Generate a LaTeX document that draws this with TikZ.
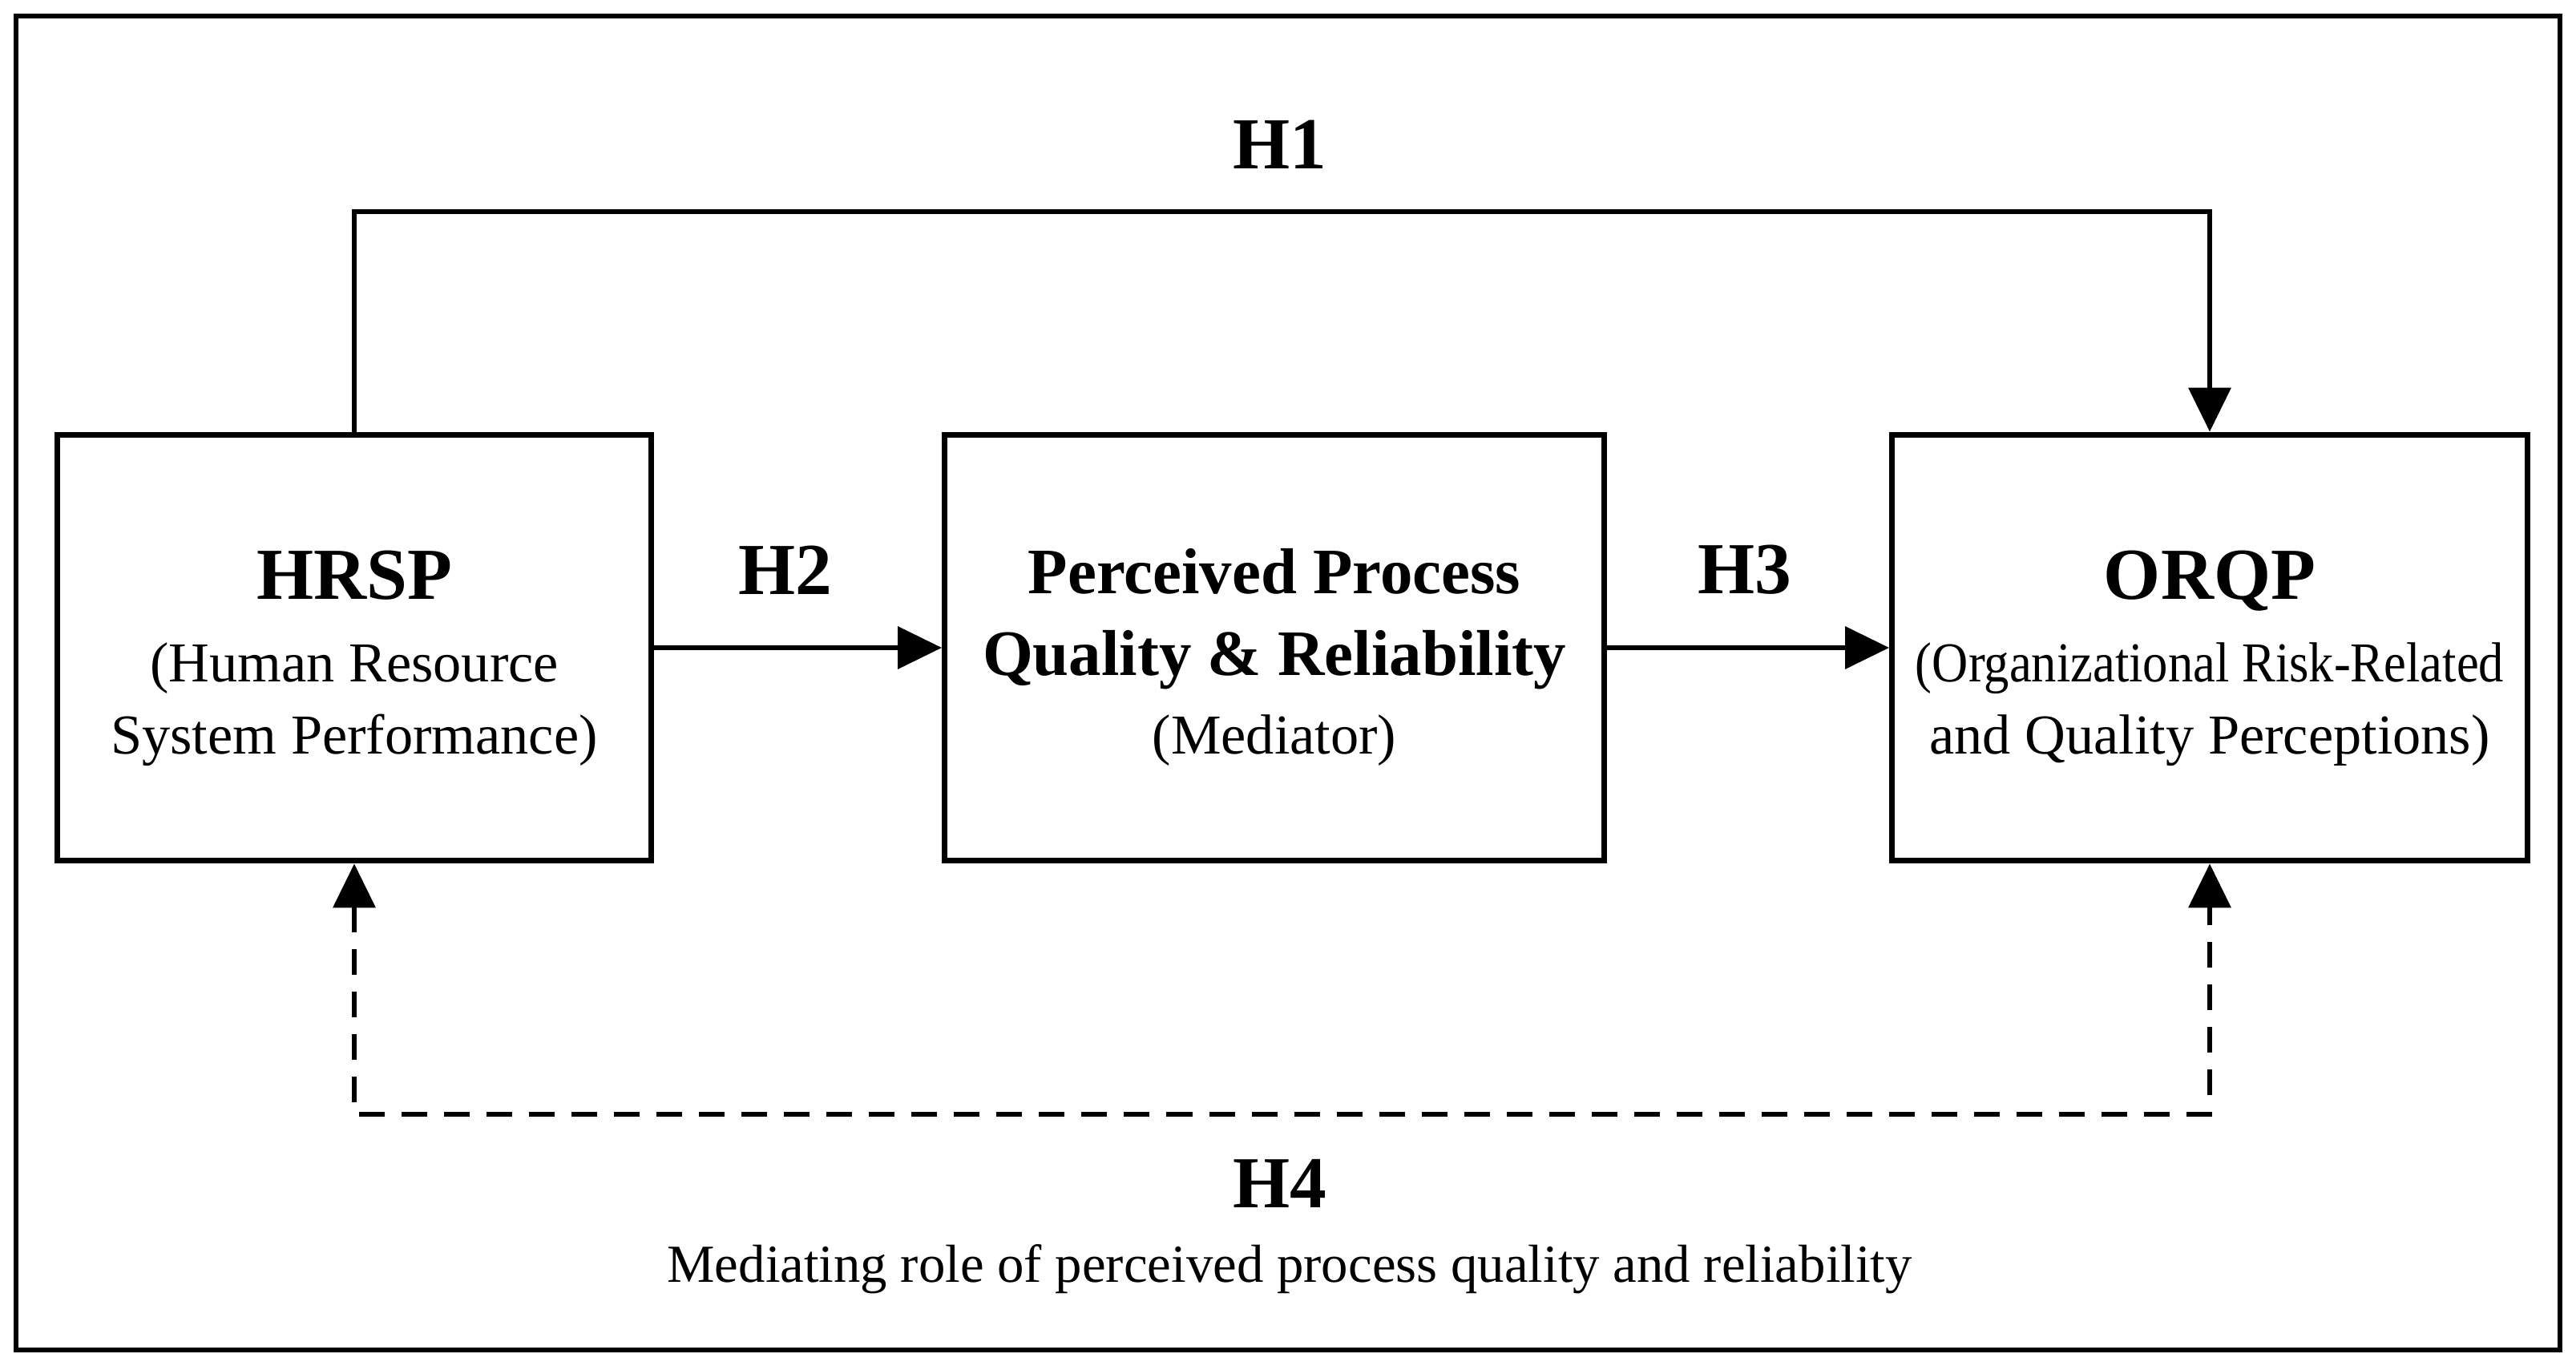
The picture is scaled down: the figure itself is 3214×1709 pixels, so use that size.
\documentclass[tikz,border=0pt]{standalone}
\usepackage{fontspec}
\setmainfont{Liberation Serif}
\usetikzlibrary{arrows.meta}
\begin{document}
\begin{tikzpicture}[x=0.01cm,y=-0.01cm,
  box/.style={draw,line width=2.1pt,inner sep=0pt},
  arr/.style={line width=1.9pt,-{Triangle[length=0.55cm,width=0.52cm]}},
  darr/.style={line width=1.9pt,dash pattern=on 0.32cm off 0.21cm,{Triangle[length=0.55cm,width=0.52cm]}-{Triangle[length=0.55cm,width=0.52cm]}},
  hlbl/.style={font=\fontsize{26}{30}\selectfont\bfseries},
  ttl/.style={anchor=base,font=\fontsize{26}{30}\selectfont\bfseries},
  ttlb/.style={anchor=base,font=\fontsize{23}{28}\selectfont\bfseries},
  sub/.style={anchor=base,font=\fontsize{20}{25.6}\selectfont}]
\useasboundingbox (0,0) rectangle (3214,1709);
\draw[line width=1.8pt] (20,20) rectangle (3194,1684);
\node[box,minimum width=7.40cm,minimum height=5.31cm] (hrsp) at (442,808) {};
\node[box,minimum width=8.22cm,minimum height=5.31cm] (ppqr) at (1590,808) {};
\node[box,minimum width=7.92cm,minimum height=5.31cm] (orqp) at (2757,808) {};
% texts
\node[ttl] (t1) at (442,747) {HRSP};
\node[sub] (s1a) at (442,850) {(Human Resource};
\node[sub] (s1b) at (442,940) {System Performance)};
\node[ttlb] (t2a) at (1590,740) {Perceived Process};
\node[ttlb] (t2b) at (1590,842) {Quality \& Reliability};
\node[sub] (s2) at (1590,940) {(Mediator)};
\node[ttl] (t3) at (2757,747) {ORQP};
\node[sub] (s3a) at (2757,850) {\scalebox{0.89}[1]{(Organizational Risk-Related}};
\node[sub] (s3b) at (2757,940) {and Quality Perceptions)};
% connectors
\coordinate (topy) at (0,264);
\coordinate (boty) at (0,1390);
\draw[arr] (hrsp.north) -- (hrsp.north |- topy) -| (orqp.north);
\draw[arr] (hrsp.east) -- (ppqr.west);
\draw[arr] (ppqr.east) -- (orqp.west);
\draw[darr] (hrsp.south) -- (hrsp.south |- boty) -| (orqp.south);
% labels
\node[hlbl] (h1) at (1597,180) {H1};
\node[hlbl] (h2) at (980,711) {H2};
\node[hlbl] (h3) at (2177,711) {H3};
\node[hlbl] (h4) at (1597,1476) {H4};
\node[font=\fontsize{19}{24}\selectfont] (cap) at (1609,1583) {Mediating role of perceived process quality and reliability};
\end{tikzpicture}
\end{document}
